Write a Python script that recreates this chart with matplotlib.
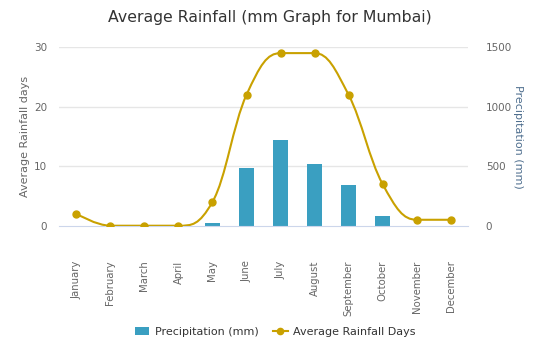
import numpy as np
import matplotlib.pyplot as plt
from matplotlib.path import Path
from matplotlib.patches import PathPatch
from matplotlib.lines import Line2D
from matplotlib.patches import Patch

months = ["January", "February", "March", "April", "May", "June", "July",
          "August", "September", "October", "November", "December"]
precip_mm = [0, 0, 0, 0, 22, 482, 721, 518, 339, 84, 0, 0]
rain_days = [2, 0, 0, 0, 4, 22, 29, 29, 22, 7, 1, 1]

bar_color = "#3a9fc1"
line_color = "#c9a100"


def spline_path(xs, ys, smoothing=1.5):
    # highcharts-style spline: bezier control points around each point
    n = len(xs)
    left = [None] * n
    right = [None] * n
    denom = smoothing + 1
    for i in range(1, n - 1):
        px, py = xs[i], ys[i]
        lx, ly = xs[i - 1], ys[i - 1]
        nx, ny = xs[i + 1], ys[i + 1]
        lcx = (smoothing * px + lx) / denom
        lcy = (smoothing * py + ly) / denom
        rcx = (smoothing * px + nx) / denom
        rcy = (smoothing * py + ny) / denom
        if rcx != lcx:
            corr = (rcy - lcy) * (rcx - px) / (rcx - lcx) + py - rcy
            lcy += corr
            rcy += corr
        if lcy > ly and lcy > py:
            lcy = max(ly, py)
            rcy = 2 * py - lcy
        elif lcy < ly and lcy < py:
            lcy = min(ly, py)
            rcy = 2 * py - lcy
        if rcy > ny and rcy > py:
            rcy = max(ny, py)
            lcy = 2 * py - rcy
        elif rcy < ny and rcy < py:
            rcy = min(ny, py)
            lcy = 2 * py - rcy
        left[i] = (lcx, lcy)
        right[i] = (rcx, rcy)
    verts = [(xs[0], ys[0])]
    codes = [Path.MOVETO]
    for i in range(1, n):
        c1 = right[i - 1] if right[i - 1] else (xs[i - 1], ys[i - 1])
        c2 = left[i] if left[i] else (xs[i], ys[i])
        verts += [c1, c2, (xs[i], ys[i])]
        codes += [Path.CURVE4] * 3
    return Path(verts, codes)


plt.rcParams['font.family'] = ['DejaVu Sans']
fig = plt.figure(figsize=(5.4, 3.6), dpi=100)
ax2 = fig.add_axes([0.11, 0.373, 0.756, 0.496])
ax = ax2.twinx()
ax.set_zorder(ax2.get_zorder() + 1)
ax.patch.set_visible(False)

x = np.arange(len(months))

# bars on right axis (mm)
ax2.bar(x, precip_mm, width=0.46, color=bar_color, zorder=2)
ax2.set_ylim(0, 1500)
ax2.set_xlim(-0.5, len(months) - 0.5)
ax2.set_yticks([0, 500, 1000, 1500])
ax2.yaxis.tick_right()
ax2.yaxis.set_label_position("right")
ax2.set_ylabel("Precipitation (mm)", color="#4f6f8f", fontsize=8,
               rotation=-90, labelpad=8)
for y in [500, 1000, 1500]:
    ax2.axhline(y, color="#e6e6e6", lw=1, zorder=0)

# line on left axis (days)
ax.add_patch(PathPatch(spline_path(list(x), rain_days), fill=False,
                       edgecolor=line_color, lw=1.5, zorder=3))
ax.plot(x, rain_days, 'o', color=line_color, markersize=5, zorder=4)
ax.set_ylim(0, 30)
ax.set_yticks([0, 10, 20, 30])
ax.yaxis.tick_left()
ax.yaxis.set_label_position("left")
ax.set_ylabel("Average Rainfall days", color="#666666", fontsize=8, labelpad=3)

for a in (ax, ax2):
    for s in a.spines.values():
        s.set_visible(False)
    a.tick_params(axis='y', length=0, labelsize=7.5, labelcolor="#666666", pad=9)
ax2.tick_params(axis='y', pad=13)
ax2.spines['bottom'].set_visible(True)
ax2.spines['bottom'].set_color("#ccd6eb")

ax2.set_xticks(np.arange(-0.5, len(months), 1.0))
ax2.set_xticklabels([])
ax2.tick_params(axis='x', length=9, color="#ccd6eb", direction='out')
ax2.set_xticks(x, minor=True)
ax2.set_xticklabels(months, minor=True, rotation=90, fontsize=7.3,
                    color="#666666", va='top')
ax2.tick_params(axis='x', which='minor', length=0, pad=25)
ax.set_xticks([])

fig.text(0.5, 0.952, "Average Rainfall (mm Graph for Mumbai)", ha='center',
         va='center', fontsize=11.3, color="#333333")

handles = [Patch(facecolor=bar_color, edgecolor='none'),
           Line2D([], [], color=line_color, marker='o', markersize=4.5, lw=1.5)]
fig.legend(handles, ["Precipitation (mm)", "Average Rainfall Days"],
           loc='center', bbox_to_anchor=(0.51, 0.078), ncol=2, frameon=False,
           fontsize=8, handlelength=1.3, columnspacing=1.3, handletextpad=0.5,
           labelcolor="#333333")

fig.savefig("out.png", dpi=100)
